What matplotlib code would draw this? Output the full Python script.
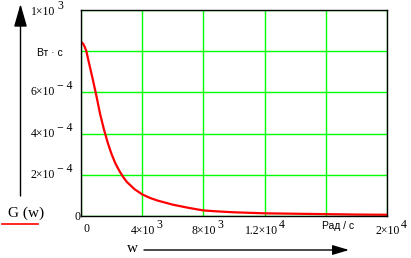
import matplotlib
matplotlib.use('Agg')
import matplotlib.pyplot as plt

# spectral density G(w)
w = [0, 150, 250, 350, 500, 750, 1000, 1250, 1500, 1750, 2000, 2250, 2500, 2750,
     3000, 3500, 4000, 4500, 5000, 6000, 7000, 8000, 9000, 10000, 12000, 14000,
     16000, 18000, 20000]
G = [8.45e-4, 8.35e-4, 8.2e-4, 8.0e-4, 7.5e-4, 6.7e-4, 5.85e-4, 4.95e-4, 4.2e-4,
     3.55e-4, 3.0e-4, 2.55e-4, 2.2e-4, 1.9e-4, 1.65e-4, 1.3e-4, 1.05e-4, 0.88e-4,
     0.75e-4, 0.55e-4, 0.4e-4, 0.27e-4, 0.22e-4, 0.18e-4, 0.13e-4, 0.11e-4,
     0.09e-4, 0.07e-4, 0.06e-4]

xticks = [0, 4e3, 8e3, 1.2e4, 1.6e4, 2e4]
xmant = ['0', '4\u00d710', '8\u00d710', '1.2\u00d710', None, '2\u00d710']
xexp = ['', '3', '3', '4', None, '4']
yticks = [0, 2e-4, 4e-4, 6e-4, 8e-4, 1e-3]
ymant = ['0', '2\u00d710', '4\u00d710', '6\u00d710', None, '1\u00d710']
yexp = ['', '\u2212 4', '\u2212 4', '\u2212 4', None, '3']

sans = 'Liberation Sans'
serif = 'Liberation Serif'
fs = 8.5

fig = plt.figure(figsize=(4.11, 2.58), dpi=100)
ax = fig.add_axes([81 / 411, 42 / 258, 306 / 411, 206 / 258])
ax.plot(w, G, color='red', linewidth=1.6)
ax.set_xlim(0, 2e4)
ax.set_ylim(0, 1e-3)
ax.set_xticks(xticks)
ax.set_yticks(yticks)
ax.set_xticklabels([])
ax.set_yticklabels([])
ax.tick_params(length=0)
ax.grid(True, color='#00ff00', linewidth=1)
for s in ax.spines.values():
    s.set_linewidth(1)
    s.set_zorder(3)

# y labels
for v, m, e in zip(yticks, ymant, yexp):
    if m is None:
        continue
    dy = -1.5 if v == 1e-3 else 0
    if e == '':
        ax.annotate(m, xy=(0, v), xycoords=('axes fraction', 'data'),
                    xytext=(-1, -1), textcoords='offset pixels',
                    ha='right', va='center', fontsize=fs, family=serif)
        continue
    ax.annotate(m, xy=(0, v), xycoords=('axes fraction', 'data'),
                xytext=(-26, dy), textcoords='offset pixels',
                ha='right', va='center', fontsize=fs, family=serif)
    ax.annotate(e, xy=(0, v), xycoords=('axes fraction', 'data'),
                xytext=(-24, 6 + dy), textcoords='offset pixels',
                ha='left', va='center', fontsize=fs, family=serif)
ax.annotate('\u0412\u0442 \u00b7 \u0441', xy=(0, 8e-4), xycoords=('axes fraction', 'data'),
            xytext=(-18, -2), textcoords='offset pixels',
            ha='right', va='center', fontsize=7.5, family=sans)

# x labels
for v, m, e in zip(xticks, xmant, xexp):
    if m is None:
        continue
    if e == '':
        ax.annotate(m, xy=(v, 0), xycoords=('data', 'axes fraction'),
                    xytext=(5, -13), textcoords='offset pixels',
                    ha='center', va='center', fontsize=fs, family=serif)
        continue
    ax.annotate(m, xy=(v, 0), xycoords=('data', 'axes fraction'),
                xytext=(13, -15), textcoords='offset pixels',
                ha='right', va='center', fontsize=fs, family=serif)
    ax.annotate(e, xy=(v, 0), xycoords=('data', 'axes fraction'),
                xytext=(14, -9), textcoords='offset pixels',
                ha='left', va='center', fontsize=fs, family=serif)
ax.annotate('\u0420\u0430\u0434 / \u0441', xy=(1.6e4, 0), xycoords=('data', 'axes fraction'),
            xytext=(12, -10), textcoords='offset pixels',
            ha='center', va='center', fontsize=7.5, family=sans)

# axis arrows and names
H = 258
ax.annotate('', xy=(20.5, H - 4), xycoords='figure pixels',
            xytext=(20.5, H - 196), textcoords='figure pixels',
            arrowprops=dict(arrowstyle='-|>,head_length=1.4,head_width=0.4',
                            color='black', lw=1, shrinkA=0, shrinkB=0))
ax.annotate('', xy=(349, H - 250), xycoords='figure pixels',
            xytext=(144, H - 250), textcoords='figure pixels',
            arrowprops=dict(arrowstyle='-|>,head_length=1.0,head_width=0.3',
                            color='black', lw=1, shrinkA=0, shrinkB=0))
fig.text(8 / 411, 1 - 213 / H, 'G (w)', ha='left', va='center',
         fontsize=11, family=serif)
fig.add_artist(plt.Line2D([2 / 411, 38 / 411], [1 - 224 / H, 1 - 224 / H],
                          color='red', linewidth=1.2))
fig.text(132 / 411, 1 - 248 / H, 'w', ha='center', va='center',
         fontsize=11, family=serif)

plt.savefig('out.png', dpi=100)
plt.close()
